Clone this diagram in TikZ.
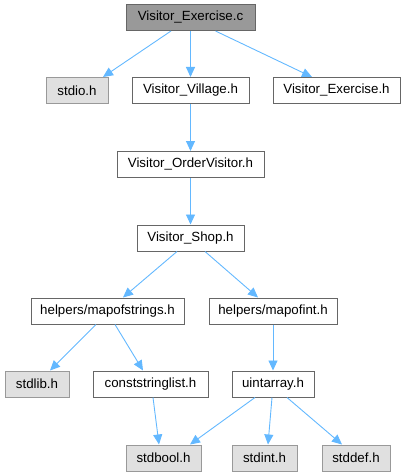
\documentclass[tikz,border=0pt]{standalone}
\usepackage{fontspec}
\setmainfont{Liberation Sans}
\usepackage{tikz}
\usetikzlibrary{arrows.meta}
\definecolor{edgeblue}{RGB}{99,184,255}
\definecolor{frame}{RGB}{102,102,102}
\definecolor{sysframe}{RGB}{153,153,153}
\definecolor{sysfill}{RGB}{224,224,224}
\definecolor{mainfill}{RGB}{153,153,153}

\begin{document}
\begin{tikzpicture}[x=1pt, y=-1pt,
    file/.style={draw=frame, line width=1pt, fill=white, minimum height=26pt, inner sep=0pt,
      font=\fontsize{13.3}{16}\selectfont},
    sysfile/.style={file, draw=sysframe, fill=sysfill},
    mainfile/.style={file, fill=mainfill},
    edge/.style={draw=edgeblue, line width=0.9pt, -{Triangle[length=10pt,width=9pt]}}]
    \useasboundingbox (0,0) rectangle (407,476);
    \node[mainfile, minimum width=129pt] (exc) at (190.5,17.5) {Visitor\_Exercise.c};
    \node[sysfile, minimum width=62pt] (stdio) at (77,90.5) {stdio.h};
    \node[file, minimum width=117pt] (village) at (190.5,90.5) {Visitor\_Village.h};
    \node[file, minimum width=127pt] (exh) at (336.5,90.5) {Visitor\_Exercise.h};
    \node[file, minimum width=147pt] (order) at (190.5,164.5) {Visitor\_OrderVisitor.h};
    \node[file, minimum width=107pt] (shop) at (190.5,238) {Visitor\_Shop.h};
    \node[file, minimum width=153pt] (mos) at (107.5,311) {helpers/mapofstrings.h};
    \node[file, minimum width=128pt] (moi) at (273,311) {helpers/mapofint.h};
    \node[sysfile, minimum width=64pt] (stdlib) at (37,384) {stdlib.h};
    \node[file, minimum width=115pt] (csl) at (150.5,384) {conststringlist.h};
    \node[file, minimum width=82pt] (uia) at (273,384) {uintarray.h};
    \node[sysfile, minimum width=75pt] (stdbool) at (163.5,458) {stdbool.h};
    \node[sysfile, minimum width=65pt] (stdint) at (264.5,458) {stdint.h};
    \node[sysfile, minimum width=68pt] (stddef) at (356,458) {stddef.h};
    \foreach \a/\da/\b/\db in {exc/-19.5/stdio/26, exc/0/village/0, exc/25/exh/-24.5,
        village/0/order/0, order/0/shop/0, shop/-13.5/mos/15.5, shop/14.5/moi/-15,
        mos/-11.5/stdlib/13, mos/7.5/csl/-7.5, moi/0/uia/0, csl/2.5/stdbool/-4.5,
        uia/-18/stdbool/26.5, uia/-1/stdint/3.5, uia/14/stddef/-14} {
      \draw[edge] ([xshift=\da pt]\a.south) -- ([xshift=\db pt]\b.north);
    }
  \end{tikzpicture}
\end{document}
